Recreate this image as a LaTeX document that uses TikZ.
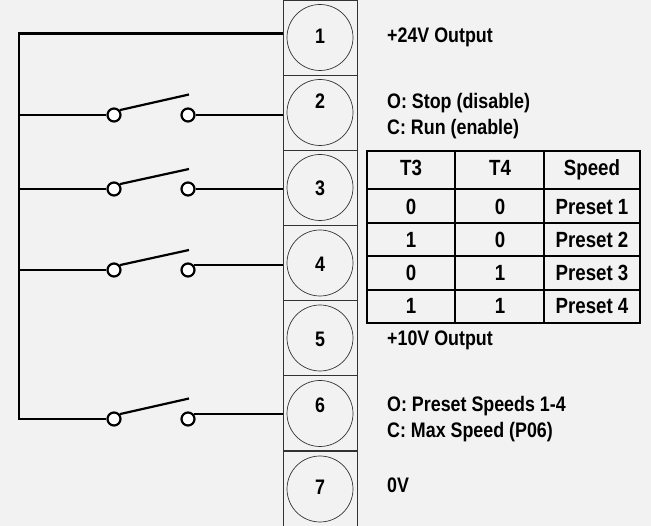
\documentclass[tikz,border=0pt]{standalone}
\usepackage{fontspec}
\setmainfont[FakeStretch=0.85]{Liberation Sans}
\tikzset{
  termbox/.style={draw=black!80,line width=0.8pt,minimum width=74pt,minimum height=75pt,inner sep=0pt},
  termhole/.style={draw=black!80,line width=0.7pt,circle,minimum size=66pt,inner sep=0pt},
  contact/.style={draw=black,line width=2.2pt,circle,fill=white,minimum size=13pt,inner sep=0pt},
  wire/.style={line width=2.2pt,black},
  bus/.style={line width=2.6pt,black},
  tablerule/.style={line width=2.4pt,black},
  lbl/.style={anchor=base west,inner sep=0pt,font=\fontsize{21}{23}\selectfont\bfseries},
  val/.style={anchor=center,inner sep=0pt,font=\fontsize{21}{23}\selectfont\bfseries},
  cell/.style={anchor=center,inner sep=0pt,font=\fontsize{22}{24}\selectfont\bfseries},
}
\begin{document}
\begin{tikzpicture}[x=1pt,y=-1pt]
\useasboundingbox (0,0) rectangle (651,526);
\fill[black!5] (0,0) rectangle (651,526);
% terminal strip
\node[termbox] (b1) at (320,37.5) {};
\node[termbox] (b2) at (320,112.5) {};
\node[termbox] (b3) at (320,187.5) {};
\node[termbox] (b4) at (320,262.5) {};
\node[termbox] (b5) at (320,337.5) {};
\node[termbox] (b6) at (320,413) {};
\node[termbox] (b7) at (320,488.5) {};
\node[termhole] (t1) at (320,37.5) {};
\node[termhole] (t2) at (320,112.5) {};
\node[termhole] (t3) at (320,187.5) {};
\node[termhole] (t4) at (320,263) {};
\node[termhole] (t5) at (320,338) {};
\node[termhole] (t6) at (320,413.5) {};
\node[termhole] (t7) at (320,489) {};
\node[val] (n1) at (320,36) {1};
\node[val] (n2) at (320,101) {2};
\node[val] (n3) at (320,188) {3};
\node[val] (n4) at (320,264) {4};
\node[val] (n5) at (320,339) {5};
\node[val] (n6) at (320,405) {6};
\node[val] (n7) at (320,487) {7};
% switches
\node[contact] (s2a) at (114,115) {};
\node[contact] (s2b) at (188,115) {};
\node[contact] (s3a) at (114,189) {};
\node[contact] (s3b) at (188,189) {};
\node[contact] (s4a) at (114,270) {};
\node[contact] (s4b) at (188,270) {};
\node[contact] (s6a) at (114,419) {};
\node[contact] (s6b) at (188,419) {};
\coordinate (tip2) at (189,94.5);
\coordinate (tip3) at (189,169);
\coordinate (tip4) at (189,250);
\coordinate (tip6) at (189,398.5);
\draw[wire] (s2a.40) -- (tip2);
\draw[wire] (s3a.40) -- (tip3);
\draw[wire] (s4a.40) -- (tip4);
\draw[wire] (s6a.40) -- (tip6);
% wiring
\coordinate (top) at (19,33.5);
\coordinate (low) at (19,419);
\draw[bus,line join=miter] (b1.west |- top) -- (top) -- (low) -- (s6a);
\draw[wire] (low |- s2a) -- (s2a);
\draw[wire] (low |- s3a) -- (s3a);
\draw[wire] (low |- s4a) -- (s4a);
\draw[wire] (s2b) -- (s2b -| b2.west);
\draw[wire] (s3b) -- (s3b -| b3.west);
\draw[wire] (s4b.40) -- (s4b.40 -| b4.west);
\draw[wire] (s6b.40) -- (s6b.40 -| b6.west);
% terminal notes
\node[lbl] (l1) at (387,43) {+24V Output};
\node[lbl] (l2a) at (387,108.5) {O: Stop (disable)};
\node[lbl] (l2b) at (387,135) {C: Run (enable)};
\node[lbl] (l5) at (387,346) {+10V Output};
\node[lbl] (l6a) at (387,412) {O: Preset Speeds 1-4};
\node[lbl] (l6b) at (387,438) {C: Max Speed (P06)};
\node[lbl] (l7) at (387,493) {0V};
% speed table
\draw[tablerule] (367,151) rectangle (640,323);
\draw[tablerule] (455,151) -- (455,323);
\draw[tablerule] (544,151) -- (544,323);
\draw[tablerule] (367,189) -- (640,189);
\draw[tablerule] (367,223) -- (640,223);
\draw[tablerule] (367,256) -- (640,256);
\draw[tablerule] (367,290) -- (640,290);
\node[cell] (h1) at (411,167.5) {T3};
\node[cell] (h2) at (500,167.5) {T4};
\node[cell] (h3) at (592,169.5) {Speed};
\node[cell] (r1a) at (411,207) {0};
\node[cell] (r1b) at (500,207) {0};
\node[cell] (r1c) at (592,207) {Preset 1};
\node[cell] (r2a) at (411,240) {1};
\node[cell] (r2b) at (500,240) {0};
\node[cell] (r2c) at (592,240) {Preset 2};
\node[cell] (r3a) at (411,273) {0};
\node[cell] (r3b) at (500,273) {1};
\node[cell] (r3c) at (592,273) {Preset 3};
\node[cell] (r4a) at (411,306) {1};
\node[cell] (r4b) at (500,306) {1};
\node[cell] (r4c) at (592,306) {Preset 4};
\end{tikzpicture}
\end{document}
